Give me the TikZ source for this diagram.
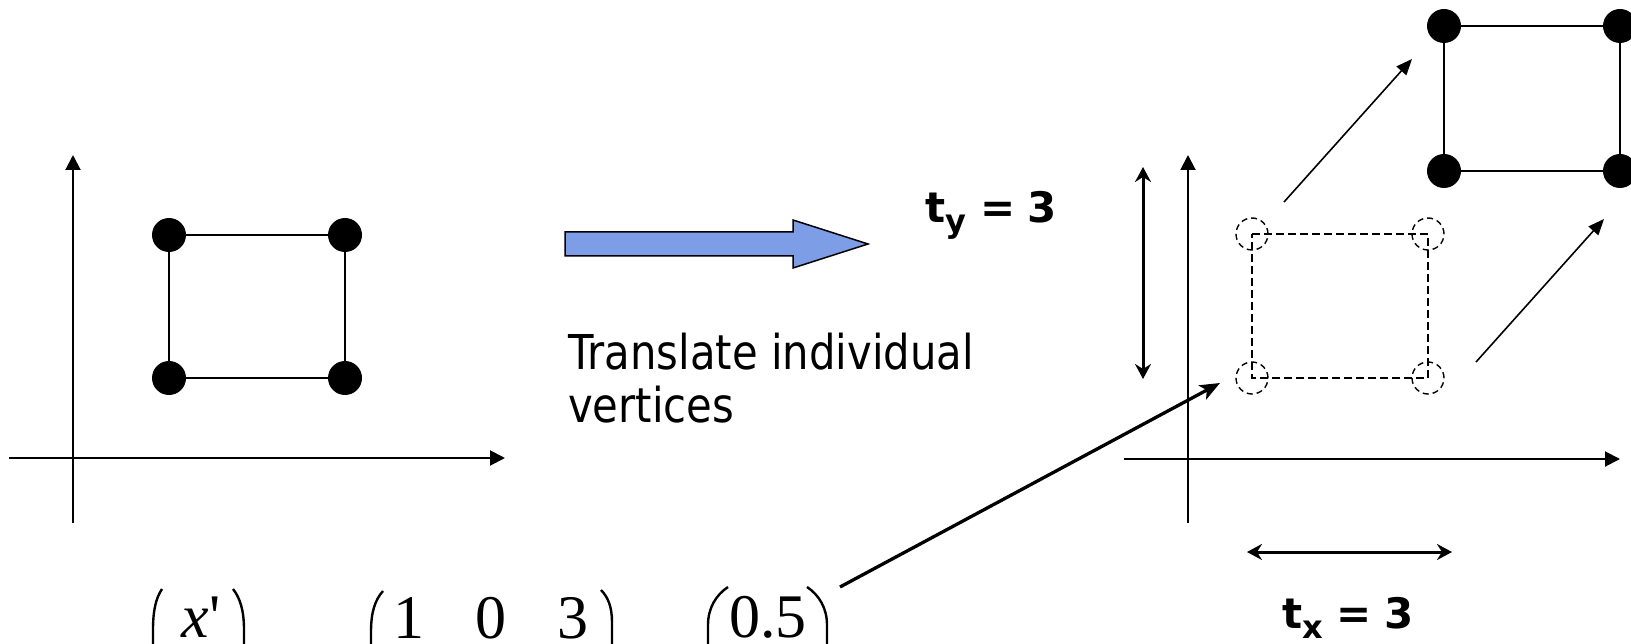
\documentclass[tikz,border=0pt]{standalone}
\usepackage{fontspec}
\setmainfont{Liberation Serif}
\newfontfamily\bodyfont[FakeStretch=0.87]{DejaVu Sans}
\newfontfamily\lblfont{DejaVu Sans}
\usetikzlibrary{arrows.meta}
\definecolor{arrowblue}{RGB}{125,157,230}
\begin{document}
\begin{tikzpicture}[x=1pt,y=-1pt,
  axis/.style={line width=2pt,-{Triangle[length=15pt,width=15pt]}},
  edge/.style={line width=2pt},
  dashedge/.style={line width=1.5pt,dash pattern=on 8pt off 4pt},
  vdot/.style={circle,fill=black,inner sep=0pt,minimum size=34pt},
  ghost/.style={circle,draw=black,line width=1.4pt,dash pattern=on 6pt off 4pt,inner sep=0pt,minimum size=32pt},
  diag/.style={line width=1.6pt,-{Triangle[length=16pt,width=13pt]}},
  dbl/.style={line width=3pt,{Stealth[length=15pt,width=16pt,inset=5pt]}-{Stealth[length=15pt,width=16pt,inset=5pt]}},
  longarrow/.style={line width=3.3pt,-{Stealth[length=20pt,width=16pt,inset=5pt]}},
  paren/.style={line width=2.4pt},
  lbl/.style={inner sep=0pt,anchor=base west,font=\lblfont\bfseries\fontsize{42}{46}\selectfont},
  body/.style={inner sep=0pt,anchor=base west,font=\bodyfont\fontsize{48}{52}\selectfont},
  mat/.style={inner sep=0pt,anchor=base,font=\fontsize{62}{66}\selectfont}
]
\useasboundingbox (0,0) rectangle (1631,644);
\clip (0,0) rectangle (1631,644);

% ---------- left axes ----------
\coordinate (Ly0) at (73,523);
\coordinate (Ly1) at (73,155);
\coordinate (Lx0) at (9,458);
\coordinate (Lx1) at (505,458);
\draw[axis] (Ly0) -- (Ly1);
\draw[axis] (Lx0) -- (Lx1);

% ---------- left square ----------
\node[vdot] (a1) at (169,235) {};
\node[vdot] (a2) at (345,235) {};
\node[vdot] (a3) at (345,378) {};
\node[vdot] (a4) at (169,378) {};
\draw[edge] (a1) -- (a2);
\draw[edge] (a2) -- (a3);
\draw[edge] (a3) -- (a4);
\draw[edge] (a4) -- (a1);

% ---------- blue block arrow ----------
\draw[fill=arrowblue,line width=1.5pt,line join=miter]
  (565,232) -- (793,232) -- (793,220) -- (868,244) -- (793,268) -- (793,256) -- (565,256) -- cycle;

% ---------- texts ----------
\node[body] (tr1) at (568,370) {Translate individual};
\node[body] (tr2) at (568,422) {vertices};
\node[lbl] (ty) at (925,223) {t\raisebox{-10pt}{\fontsize{32}{32}\selectfont y}\hspace{14pt}=\hspace{12pt}3};
\node[lbl] (tx) at (1282,628) {t\raisebox{-10pt}{\fontsize{32}{32}\selectfont x}\hspace{14pt}=\hspace{12pt}3};

% ---------- right axes ----------
\coordinate (Ry0) at (1188,523);
\coordinate (Ry1) at (1188,155);
\coordinate (Rx0) at (1124,459);
\coordinate (Rx1) at (1620,459);
\draw[axis] (Ry0) -- (Ry1);
\draw[axis] (Rx0) -- (Rx1);

% ---------- double arrows ----------
\coordinate (tyA) at (1143,167);
\coordinate (tyB) at (1143,379);
\draw[dbl] (tyA) -- (tyB);
\coordinate (txA) at (1247,552);
\coordinate (txB) at (1452,552);
\draw[dbl] (txA) -- (txB);

% ---------- dashed (original) square ----------
\node[ghost] (g1) at (1252,234) {};
\node[ghost] (g2) at (1428,234) {};
\node[ghost] (g3) at (1428,378) {};
\node[ghost] (g4) at (1252,378) {};
\draw[dashedge] (g1.center) -- (g2.center) -- (g3.center) -- (g4.center) -- cycle;

% ---------- translated square ----------
\node[vdot] (b1) at (1444,26) {};
\node[vdot] (b2) at (1620,26) {};
\node[vdot] (b3) at (1620,171) {};
\node[vdot] (b4) at (1444,171) {};
\draw[edge] (b1) -- (b2);
\draw[edge] (b2) -- (b3);
\draw[edge] (b3) -- (b4);
\draw[edge] (b4) -- (b1);

% ---------- diagonal arrows ----------
\coordinate (d1s) at (1284,202);
\coordinate (d1e) at (1412,59);
\coordinate (d2s) at (1476,362);
\coordinate (d2e) at (1604,219);
\draw[diag] (d1s) -- (d1e);
\draw[diag] (d2s) -- (d2e);

% ---------- matrix equation (cut off at bottom) ----------
\node[mat] (m1) at (201,637) {\itshape x\upshape\textquotesingle};
\draw[paren] (162,589) .. controls (156,598) and (153,610) .. (153,630) -- (153,680);
\draw[paren] (233,589) .. controls (240,598) and (244,610) .. (244,630) -- (244,680);

\node[mat] (m2) at (491,638) {1\hspace{52pt}0\hspace{51pt}3};
\draw[paren] (383,591) .. controls (375,600) and (371,612) .. (371,632) -- (371,680);
\draw[paren] (601,590) .. controls (608,597) and (612,607) .. (612,622) -- (612,680);

\node[mat] (m3) at (768,637) {0.5};
\draw[paren] (728,587) .. controls (716,595) and (708,608) .. (708,625) -- (708,680);
\draw[paren] (807,587) .. controls (819,595) and (827,608) .. (827,625) -- (827,680);

\coordinate (src) at (840,587);
\coordinate (dst) at (1220,383);
\draw[longarrow] (src) -- (dst);
\end{tikzpicture}
\end{document}
